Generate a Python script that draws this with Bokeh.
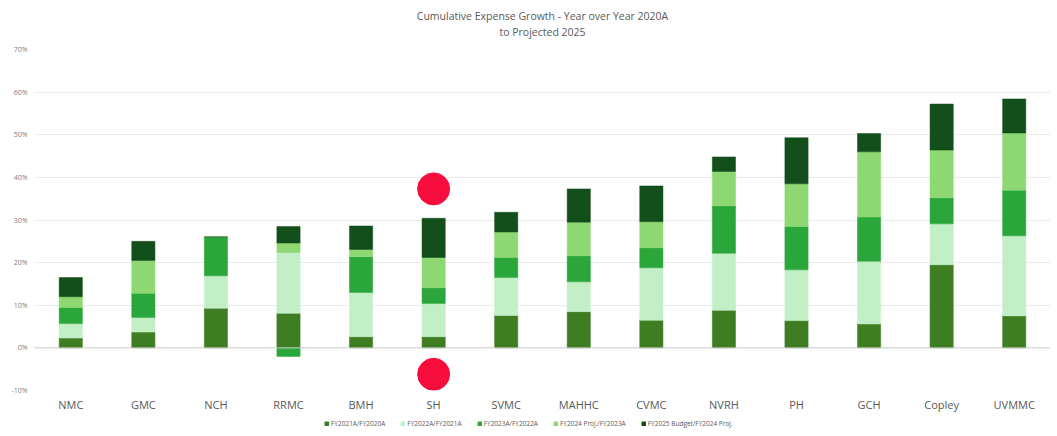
from bokeh.plotting import figure
from bokeh.layouts import column
from bokeh.models import ColumnDataSource, Legend, LegendItem, Span, PrintfTickFormatter, FixedTicker, Title, Range1d, FactorRange
from bokeh.embed import file_html
from bokeh.resources import INLINE

hospitals = ["NMC", "GMC", "NCH", "RRMC", "BMH", "SH", "SVMC", "MAHHC", "CVMC", "NVRH", "PH", "GCH", "Copley", "UVMMC"]

# growth contributions in percent
fy21_20 = [2.3, 3.7, 9.3, 8.1, 2.6, 2.6, 7.6, 8.5, 6.5, 8.8, 6.4, 5.6, 19.5, 7.5]
fy22_21 = [3.4, 3.4, 7.6, 14.3, 10.4, 7.8, 8.9, 7.0, 12.3, 13.4, 11.9, 14.7, 9.6, 18.8]
fy23_22 = [3.8, 5.7, 9.1, -2.0, 8.4, 3.7, 4.7, 6.1, 4.7, 11.1, 10.2, 10.4, 6.1, 10.7]
fy24_23 = [2.5, 7.7, 0.0, 2.2, 1.7, 7.1, 6.0, 7.9, 6.1, 8.1, 10.0, 15.3, 11.2, 13.4]
fy25_24 = [4.5, 4.5, 0.0, 3.9, 5.5, 9.2, 4.6, 7.8, 8.4, 3.4, 10.8, 4.3, 10.8, 8.0]

series_names = ["FY2021A/FY2020A", "FY2022A/FY2021A", "FY2023A/FY2022A", "FY2024 Proj./FY2023A", "FY2025 Budget/FY2024 Proj."]
series_values = [fy21_20, fy22_21, fy23_22, fy24_23, fy25_24]
colors = ["#3F7D23", "#C3EFC6", "#2AA63B", "#8ED873", "#134F1B"]

title_lines = ["Cumulative Expense Growth - Year over Year 2020A", "to Projected 2025"]

# highlight markers (annotation) at SH
marker_cats = ["SH", "SH"]
marker_vals = [37.3, -6.2]

y_ticks = [-10, 0, 10, 20, 30, 40, 50, 60, 70]

W = 1050
p = figure(x_range=FactorRange(*hospitals, range_padding=0), y_range=Range1d(-10, 70),
           width=W, height=414, output_backend="svg", toolbar_location=None,
           min_border_left=34, min_border_right=0, min_border_top=49, min_border_bottom=20)
p.outline_line_color = None
p.background_fill_color = "white"
p.border_fill_color = "white"

# spacer nearest the frame, then the two title lines
p.add_layout(Title(text=" ", text_font_size="8px", standoff=0), "above")
for line in reversed(title_lines):
    t = Title(text=line, align="center", text_font_size="10.5px", text_font_style="normal",
              text_color="#595959", text_font="Open Sans", standoff=0)
    p.add_layout(t, "above")

pos = [0.0] * len(hospitals)
neg = [0.0] * len(hospitals)
for name, vals, col in zip(series_names, series_values, colors):
    bottoms, tops = [], []
    for i, v in enumerate(vals):
        if v >= 0:
            b = pos[i]; t = b + v; pos[i] = t
        else:
            b = neg[i]; t = b + v; neg[i] = t
        bottoms.append(b); tops.append(t)
    src = ColumnDataSource(dict(x=hospitals, bottom=bottoms, top=tops))
    p.vbar(x="x", bottom="bottom", top="top", width=0.32, source=src,
           fill_color=col, line_color=col, line_width=0.5)

p.scatter(x=marker_cats, y=marker_vals, size=32, marker="circle",
          fill_color="#F70D3D", line_color="#F70D3D")

p.add_layout(Span(location=0, dimension="width", line_color="#d0d0d0", line_width=1))

p.xgrid.grid_line_color = None
p.ygrid.grid_line_color = "#ebebeb"
p.ygrid.ticker = FixedTicker(ticks=y_ticks)

p.yaxis.ticker = FixedTicker(ticks=y_ticks)
p.yaxis.formatter = PrintfTickFormatter(format="%d%%")
p.yaxis.axis_line_color = None
p.yaxis.major_tick_line_color = None
p.yaxis.minor_tick_line_color = None
p.yaxis.major_tick_out = 0
p.yaxis.minor_tick_out = 0
p.yaxis.major_label_text_font_size = "7px"
p.yaxis.major_label_text_color = "#808080"
p.yaxis.major_label_text_font = "Open Sans"
p.yaxis.major_label_standoff = 7

p.xaxis.axis_line_color = None
p.xaxis.major_tick_line_color = None
p.xaxis.minor_tick_line_color = None
p.xaxis.major_tick_out = 0
p.xaxis.minor_tick_out = 0
p.xaxis.major_label_text_font_size = "11px"
p.xaxis.major_label_text_color = "#595959"
p.xaxis.major_label_text_font = "Open Sans"
p.xaxis.major_label_standoff = 6

# legend strip
lg = figure(width=W, height=14, output_backend="svg", toolbar_location=None,
            x_range=Range1d(0, 1), y_range=Range1d(0, 1),
            min_border_left=0, min_border_right=0, min_border_top=0, min_border_bottom=0)
lg.axis.visible = False
lg.grid.visible = False
lg.outline_line_color = None
items = []
for name, col in zip(series_names, colors):
    r = lg.vbar(x=[-5], top=[-5], bottom=[-6], width=0.1, fill_color=col, line_color=col)
    items.append(LegendItem(label=name, renderers=[r]))
legend = Legend(items=items, orientation="horizontal", location=(290, 0),
                label_text_font_size="6.5px", label_text_color="#595959", label_text_font="Open Sans",
                glyph_width=5, glyph_height=5, label_height=8, label_standoff=2, spacing=15,
                padding=0, margin=0, border_line_color=None, background_fill_alpha=0)
lg.add_layout(legend)

layout = column(p, lg, spacing=0)
open("out.html", "w").write(file_html(layout, INLINE))
